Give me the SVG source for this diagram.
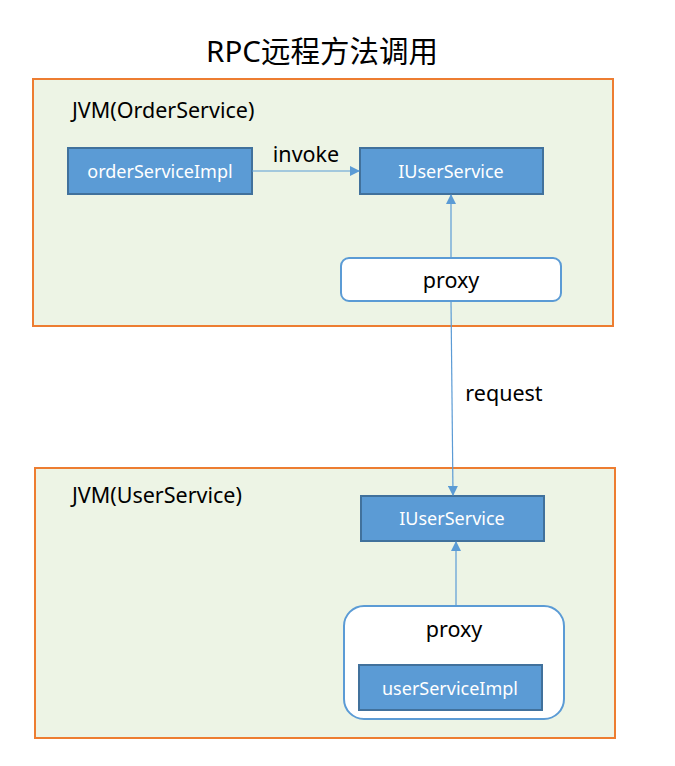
<svg xmlns="http://www.w3.org/2000/svg" width="675" height="766" viewBox="0 0 675 766">
<style>
text{font-family:"Noto Sans","Noto Sans CJK SC",sans-serif;}
.jvm{fill:#EDF4E5;stroke:#ED7D31;stroke-width:2;}
.node rect.blue{fill:#5B9BD5;stroke:#41719C;stroke-width:2;}
.node rect.proxy{fill:#fff;stroke:#5B9BD5;stroke-width:2;}
.wt{fill:#fff;font-size:18px;text-anchor:middle;}
.bt{fill:#000;font-size:21.5px;}
.conn{stroke:#5B9BD5;stroke-width:1.2;fill:none;marker-end:url(#ah);}
</style>
<defs>
<marker id="ah" markerWidth="10" markerHeight="10" refX="9" refY="5" orient="auto" markerUnits="userSpaceOnUse">
<path d="M0,0 L10,5 L0,10 z" fill="#5B9BD5"/>
</marker>
</defs>
<rect width="675" height="766" fill="#fff"/>
<text x="322" y="62" font-size="29.5" text-anchor="middle" fill="#000">RPC远程方法调用</text>
<g id="jvm-order">
<rect class="jvm" x="33" y="79" width="580" height="247"/>
<text class="bt" x="72" y="118">JVM(OrderService)</text>
</g>
<g id="jvm-user">
<rect class="jvm" x="35" y="468" width="580" height="270"/>
<text class="bt" x="72" y="503">JVM(UserService)</text>
</g>
<g id="orderServiceImpl" class="node">
<rect class="blue" x="68" y="148" width="184" height="46"/>
<text class="wt" x="160" y="178">orderServiceImpl</text>
</g>
<g id="IUserService-top" class="node">
<rect class="blue" x="360" y="148" width="183" height="46"/>
<text class="wt" x="451" y="178">IUserService</text>
</g>
<g id="proxy-top" class="node">
<rect class="proxy" x="341" y="258" width="220" height="43" rx="8"/>
<text class="bt" x="451" y="288" text-anchor="middle">proxy</text>
</g>
<g id="IUserService-bottom" class="node">
<rect class="blue" x="361" y="496" width="183" height="45"/>
<text class="wt" x="452" y="525">IUserService</text>
</g>
<g id="proxy-bottom" class="node">
<rect class="proxy" x="344" y="606" width="220" height="113" rx="20"/>
<text class="bt" x="454" y="637" text-anchor="middle">proxy</text>
</g>
<g id="userServiceImpl" class="node">
<rect class="blue" x="359" y="665" width="183" height="45"/>
<text class="wt" x="450" y="695">userServiceImpl</text>
</g>
<g id="connectors">
<line class="conn" x1="252" y1="171" x2="359" y2="171"/>
<line class="conn" x1="451" y1="258" x2="451" y2="195"/>
<line class="conn" x1="451" y1="301" x2="453" y2="495"/>
<line class="conn" x1="456" y1="606" x2="456" y2="542"/>
<text class="bt" x="306" y="162" text-anchor="middle">invoke</text>
<text class="bt" x="504" y="401" text-anchor="middle" fill="#404040">request</text>
</g>
</svg>
